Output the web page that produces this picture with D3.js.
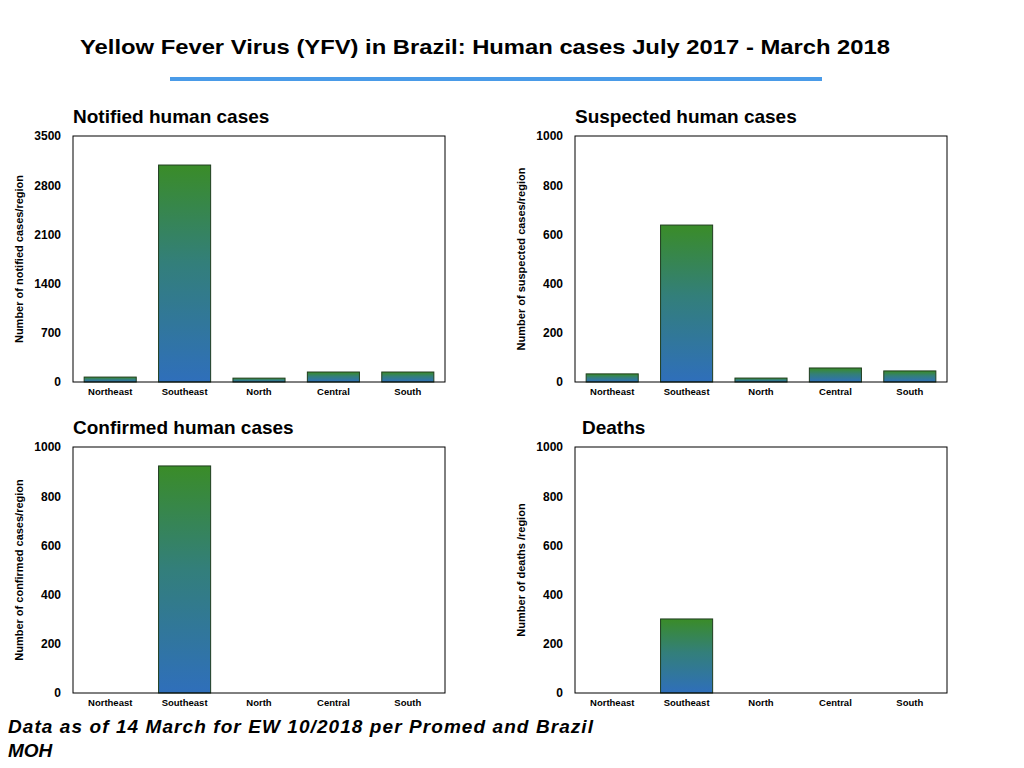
<!DOCTYPE html>
<html><head><meta charset="utf-8">
<script src="https://cdn.jsdelivr.net/npm/d3@7"></script>
<style>body{margin:0;background:#fff;font-family:"Liberation Sans",Arial,sans-serif}</style>
</head><body><svg width="1024" height="768"></svg>
<script>
const regions = ["Northeast", "Southeast", "North", "Central", "South"];
const notified = [70, 3087, 55, 142, 142];
const suspected = [33, 638, 16, 57, 45];
const confirmed = [0, 923, 0, 0, 0];
const deaths = [0, 301, 0, 0, 0];

const svg = d3.select("svg");
const defs = svg.append("defs");
const grad = defs.append("linearGradient").attr("id", "g").attr("x1", 0).attr("y1", 1).attr("x2", 0).attr("y2", 0);
grad.append("stop").attr("offset", "0%").attr("stop-color", "#2f6fbb");
grad.append("stop").attr("offset", "55%").attr("stop-color", "#337f7a");
grad.append("stop").attr("offset", "100%").attr("stop-color", "#3a8c28");

svg.append("text").attr("x", 80).attr("y", 54)
    .attr("font-size", 21).attr("font-weight", "bold").attr("textLength", 810).attr("lengthAdjust", "spacingAndGlyphs")
    .text("Yellow Fever Virus (YFV) in Brazil: Human cases July 2017 - March 2018");
svg.append("line").attr("x1", 170).attr("x2", 822).attr("y1", 79).attr("y2", 79)
    .attr("stroke", "#4a9be8").attr("stroke-width", 4);

const panels = [
    { title: "Notified human cases", ylab: "Number of notified cases/region", data: notified, max: 3500, ticks: [0, 700, 1400, 2100, 2800, 3500], x: 73, y: 136 },
    { title: "Suspected human cases", ylab: "Number of suspected cases/region", data: suspected, max: 1000, ticks: [0, 200, 400, 600, 800, 1000], x: 575, y: 136 },
    { title: "Confirmed human cases", ylab: "Number of confirmed cases/region", data: confirmed, max: 1000, ticks: [0, 200, 400, 600, 800, 1000], x: 73, y: 447 },
    { title: "Deaths", ylab: "Number of deaths /region", data: deaths, max: 1000, ticks: [0, 200, 400, 600, 800, 1000], x: 575, y: 447 }
];
const w = 372, h = 246;

panels.forEach(p => {
    const g = svg.append("g").attr("transform", `translate(${p.x},${p.y})`);
    const x = d3.scaleBand().domain(regions).range([0, w]).paddingInner(0.3).paddingOuter(0.15);
    const y = d3.scaleLinear().domain([0, p.max]).range([h, 0]);
    g.append("text").attr("x", p.title === "Deaths" ? 7 : 0).attr("y", -13).attr("font-size", 19).attr("font-weight", "bold").text(p.title);
    g.selectAll("rect.bar").data(p.data).join("rect").attr("class", "bar")
        .attr("x", (d, i) => x(regions[i])).attr("width", x.bandwidth())
        .attr("y", d => y(d)).attr("height", d => h - y(d))
        .attr("fill", "url(#g)").attr("stroke", d => d > 0 ? "#1f3d1f" : "none").attr("stroke-width", 1);
    g.append("rect").attr("width", w).attr("height", h).attr("fill", "none").attr("stroke", "#000").attr("stroke-width", 1);
    const ya = g.append("g").call(d3.axisLeft(y).tickValues(p.ticks).tickFormat(d3.format("d")).tickSize(0).tickPadding(12));
    ya.select(".domain").remove();
    ya.selectAll("text").attr("font-size", 12).attr("font-family", "Liberation Sans, Arial").attr("font-weight", "bold").attr("fill", "#000");
    const xa = g.append("g").attr("transform", `translate(0,${h})`).call(d3.axisBottom(x).tickSize(0).tickPadding(6));
    xa.select(".domain").remove();
    xa.selectAll("text").attr("font-size", 9.5).attr("font-family", "Liberation Sans, Arial").attr("font-weight", "bold").attr("fill", "#000");
    g.append("text").attr("transform", `translate(-50,${h / 2}) rotate(-90)`).attr("text-anchor", "middle")
        .attr("font-size", 11).attr("font-weight", "bold").text(p.ylab);
});

svg.append("text").attr("x", 8).attr("y", 733).attr("font-size", 19).attr("font-weight", "bold").attr("font-style", "italic")
    .attr("textLength", 585).attr("lengthAdjust", "spacing").text("Data as of 14 March for EW 10/2018 per Promed and Brazil");
svg.append("text").attr("x", 8).attr("y", 757).attr("font-size", 19).attr("font-weight", "bold").attr("font-style", "italic").text("MOH");
</script></body></html>
